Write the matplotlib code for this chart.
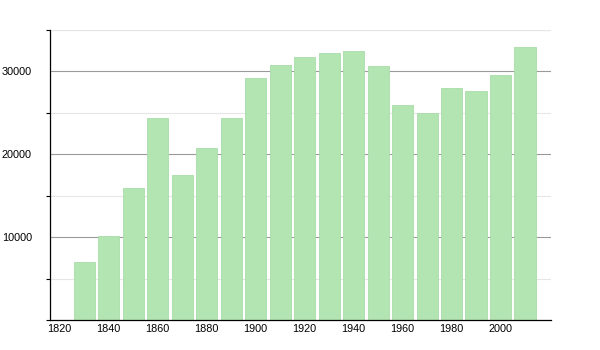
import numpy as np
import matplotlib.pyplot as plt
from matplotlib.ticker import MultipleLocator

# Dữ liệu dân số theo năm
nam = [1830, 1840, 1850, 1860, 1870, 1880, 1890, 1900, 1910, 1920,
       1930, 1940, 1950, 1960, 1970, 1980, 1990, 2000, 2010]
dan_so = [7000, 10100, 15900, 24400, 17450, 20700, 24400, 29150, 30800, 31700,
          32250, 32500, 30600, 26000, 25000, 28050, 27600, 29600, 32900]

nhan_x = [1820, 1840, 1860, 1880, 1900, 1920, 1940, 1960, 1980, 2000]
nhan_y = [10000, 20000, 30000]

plt.rcParams['font.family'] = ['Liberation Sans', 'DejaVu Sans']

fig = plt.figure(figsize=(6, 3.5), dpi=100)
ax = fig.add_axes([50 / 600, 30 / 350, 501 / 600, 290 / 350])

ax.bar(nam, dan_so, width=8.6, color='#b3e5b3', edgecolor='#a9dca9',
       linewidth=0.6, zorder=2)

ax.set_xlim(1816.1, 2020.6)
ax.set_ylim(0, 35000)

# Lưới: chính đậm, phụ nhạt
ax.set_yticks(nhan_y)
ax.yaxis.set_minor_locator(MultipleLocator(5000))
ax.grid(axis='y', which='major', color='#9a9a9a', linewidth=0.8, zorder=0)
ax.grid(axis='y', which='minor', color='#e6e6e6', linewidth=0.8, zorder=0)
ax.axhline(35000, color='#e6e6e6', linewidth=0.8, zorder=0)

ax.set_xticks(nhan_x)
ax.tick_params(axis='x', length=0, pad=3, labelsize=7.8)
ax.tick_params(axis='y', which='major', length=0, pad=13, labelsize=7.8)
ax.tick_params(axis='y', which='minor', length=3, direction='out', width=0.8)

for s in ['top', 'right']:
    ax.spines[s].set_visible(False)
ax.spines['left'].set_linewidth(0.9)
ax.spines['bottom'].set_linewidth(0.9)

fig.savefig('out.png', dpi=100)
